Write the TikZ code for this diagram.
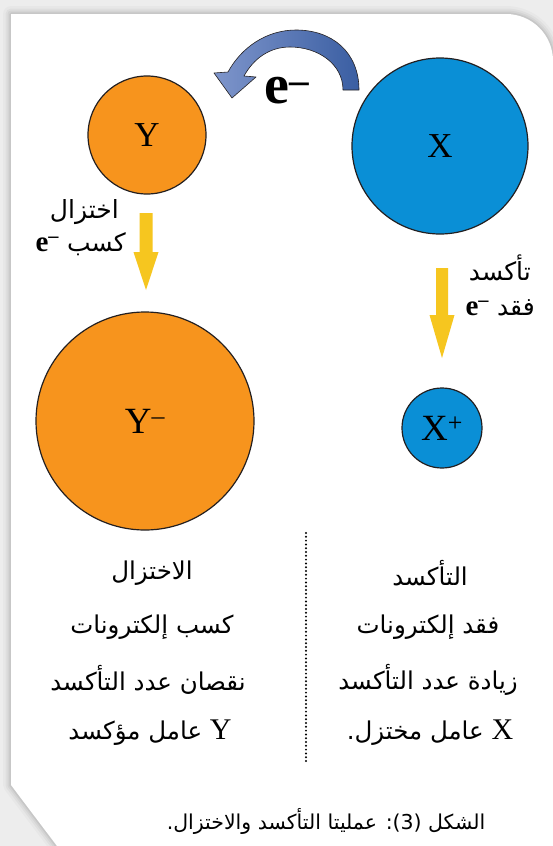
\documentclass[tikz,border=0pt]{standalone}
\usepackage{fontspec}
\setmainfont{Liberation Serif}
\newfontfamily\arabicfont[Script=Arabic]{DejaVu Sans}
\TeXXeTstate=1
\definecolor{orangec}{HTML}{F7941D}
\definecolor{bluec}{HTML}{0A8FD6}
\definecolor{yellowc}{HTML}{F6C61F}
\definecolor{outlinec}{HTML}{231F20}
\definecolor{arrowdark}{HTML}{3A5EA2}
\definecolor{arrowlight}{HTML}{7E95CB}
\definecolor{bgc}{HTML}{EDEDED}
\newcommand{\latinletter}[1]{{\rmfamily\fontsize{30}{30}\selectfont #1}}
\newcommand{\elecsym}{{\rmfamily\bfseries\fontsize{29}{29}\selectfont e\textsuperscript{–}}}
\begin{document}
\begin{tikzpicture}[x=1pt,y=-1pt,
  ball/.style={circle, draw=outlinec, line width=1.2pt, inner sep=0pt},
  balltext/.style={font=\fontsize{35}{35}\selectfont},
  iontext/.style={font=\fontsize{37}{37}\selectfont},
  artext/.style={font=\arabicfont\fontsize{25}{28}\selectfont, inner sep=0pt, text height=16pt, text depth=5pt},
  coltext/.style={font=\arabicfont\fontsize{24.5}{28}\selectfont, inner sep=0pt},
  yarrow/.style={fill=yellowc},
  dotline/.style={line width=2.2pt, line cap=round, dash pattern=on 0pt off 3.8pt, black}]
\useasboundingbox (0,0) rectangle (553,846);
\clip (0,0) rectangle (553,846);
\fill[bgc] (0,0) rectangle (553,846);
\def\cardpath{(11,785) -- (11,14) -- (506,14) .. controls (532,14) and (553,35) .. (553,61) -- (560,61) -- (560,846) -- (57,846) -- cycle}
\foreach \w/\o in {16/0.025,11/0.035,7/0.045,3.5/0.06}{
  \draw[line width=\w pt, black, opacity=\o, line join=round] \cardpath;
}
\fill[white] \cardpath;

% circles
\node[ball, fill=orangec, minimum size=118pt, balltext] (Y) at (147,135) {Y};
\node[ball, fill=bluec, minimum size=176pt, balltext] (X) at (440,146) {X};
\node[ball, fill=orangec, minimum size=218pt, iontext] (Ym) at (145,421) {Y\textsuperscript{–}};
\node[ball, fill=bluec, minimum size=80pt, iontext] (Xp) at (442,428) {X\textsuperscript{+}};

% curved electron-transfer arrow
\shade[left color=arrowlight, right color=arrowdark, draw=outlinec, line width=0.6pt, line join=round]
  (359,90) .. controls (359,52) and (332,30) .. (296,30)
  .. controls (266,30) and (241,48) .. (228,72)
  -- (214,73) -- (232,98) -- (256,77) -- (244,76)
  .. controls (254,58) and (270,47) .. (290,47)
  .. controls (318,47) and (343,64) .. (343,90) -- cycle;
\node[anchor=base west, inner sep=0pt] (elec) at (264,103) {\fontsize{56}{56}\selectfont\bfseries e\textsuperscript{–}};

% yellow arrows
\coordinate (la) at (146,213);
\fill[yarrow] ([xshift=-6.5pt]la) -- ([xshift=6.5pt]la) -- ([xshift=6.5pt,yshift=-39pt]la)
  -- ([xshift=12.5pt,yshift=-39pt]la) -- ([yshift=-77pt]la) -- ([xshift=-12.5pt,yshift=-39pt]la)
  -- ([xshift=-6.5pt,yshift=-39pt]la) -- cycle;
\coordinate (ra) at (442,268);
\fill[yarrow] ([xshift=-6pt]ra) -- ([xshift=6pt]ra) -- ([xshift=6pt,yshift=-47pt]ra)
  -- ([xshift=12.5pt,yshift=-47pt]ra) -- ([yshift=-90pt]ra) -- ([xshift=-12.5pt,yshift=-47pt]ra)
  -- ([xshift=-6pt,yshift=-47pt]ra) -- cycle;

% arrow labels
\node[artext, anchor=east] (red1) at (119,213) {\beginR اختزال\endR};
\node[artext, anchor=east] (red2) at (126,246) {\beginR كسب \beginL\elecsym\endL\endR};
\node[artext, anchor=east] (ox1) at (531,275) {\beginR تأكسد\endR};
\node[artext, anchor=east] (ox2) at (535,310) {\beginR فقد \beginL\elecsym\endL\endR};

% divider
\coordinate (dtop) at (306,533);
\coordinate (dbot) at (306,763);
\draw[dotline] (dtop) -- (dbot);

% columns
\node[coltext] (l1) at (152,573) {\beginR الاختزال\endR};
\node[coltext] (l2) at (152,627) {\beginR كسب إلكترونات\endR};
\node[coltext] (l3) at (148,680) {\beginR نقصان عدد التأكسد\endR};
\node[coltext] (l4) at (150,733) {\beginR\latinletter{Y} عامل مؤكسد\endR};
\node[coltext] (r1) at (430,573) {\beginR التأكسد\endR};
\node[coltext] (r2) at (428,627) {\beginR فقد إلكترونات\endR};
\node[coltext] (r3) at (428,680) {\beginR زيادة عدد التأكسد\endR};
\node[coltext] (r4) at (430,733) {\beginR\latinletter{X} عامل مختزل.\endR};

% caption
\node[font=\arabicfont\fontsize{20.5}{24}\selectfont, inner sep=0pt] (cap) at (326,821)
  {\beginR الشكل \beginL(3)\endL: عمليتا التأكسد والاختزال.\endR};
\end{tikzpicture}
\end{document}
